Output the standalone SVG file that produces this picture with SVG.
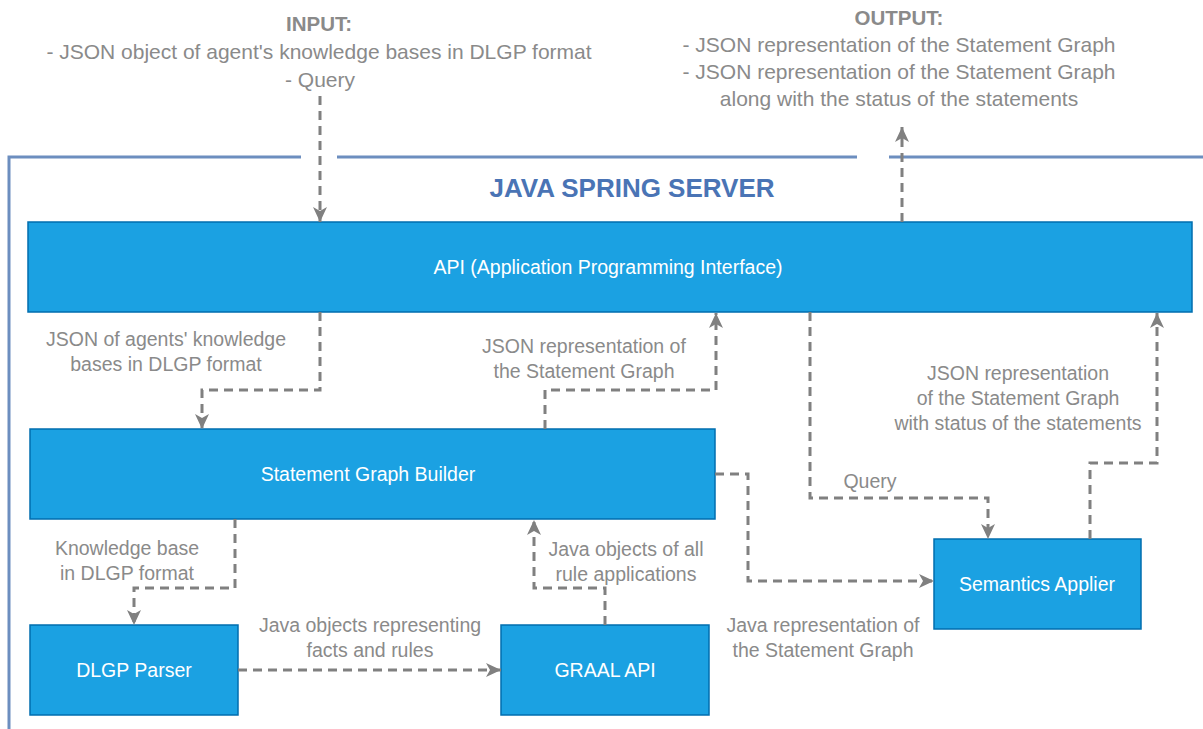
<svg xmlns="http://www.w3.org/2000/svg" width="1203" height="729" viewBox="0 0 1203 729">
<style>
.box{fill:#1ba1e2;stroke:#006eaf;stroke-width:1.5}
.bt{fill:#ffffff;font-family:"Liberation Sans",Arial,sans-serif;font-size:19.5px;text-anchor:middle}
.lb{fill:#8a8a8a;font-family:"Liberation Sans",Arial,sans-serif;font-size:19.5px;text-anchor:middle}
.tp{fill:#8a8a8a;font-family:"Liberation Sans",Arial,sans-serif;font-size:21px;text-anchor:middle}
.hd{fill:#8a8a8a;font-family:"Liberation Sans",Arial,sans-serif;font-size:20.5px;font-weight:bold;text-anchor:middle}
.c{fill:none;stroke:#808080;stroke-width:3;stroke-dasharray:9 6;marker-end:url(#ah)}
.frame{fill:none;stroke:#6c8ebf;stroke-width:3}
</style>
<defs>
<marker id="ah" markerUnits="userSpaceOnUse" markerWidth="18" markerHeight="18" refX="15" refY="9" orient="auto">
<path d="M0,2 L15,9 L0,16 L4,9 Z" fill="#808080"/>
</marker>
</defs>
<g id="container">
<path class="frame" d="M301,157 H9 V729"/>
<path class="frame" d="M337,157 H857"/>
<path class="frame" d="M889,157 H1203"/>
<text x="632" y="197" style="fill:#4a74b5;font-family:'Liberation Sans',Arial,sans-serif;font-size:26px;font-weight:bold;text-anchor:middle">JAVA SPRING SERVER</text>
</g>
<g id="input">
<text class="hd" x="319" y="31">INPUT:</text>
<text class="tp" x="319" y="59">- JSON object of agent's knowledge bases in DLGP format</text>
<text class="tp" x="320" y="87">- Query</text>
</g>
<g id="output">
<text class="hd" x="899" y="25">OUTPUT:</text>
<text class="tp" x="899" y="52">- JSON representation of the Statement Graph</text>
<text class="tp" x="899" y="79">- JSON representation of the Statement Graph</text>
<text class="tp" x="899" y="106">along with the status of the statements</text>
</g>
<g id="api">
<rect class="box" x="28" y="222" width="1164" height="90"/>
<text class="bt" x="608" y="274">API (Application Programming Interface)</text>
</g>
<g id="sgb">
<rect class="box" x="30" y="429" width="685" height="90"/>
<text class="bt" x="368" y="481">Statement Graph Builder</text>
</g>
<g id="dlgp">
<rect class="box" x="30" y="625" width="208" height="90"/>
<text class="bt" x="134" y="677">DLGP Parser</text>
</g>
<g id="graal">
<rect class="box" x="501" y="625" width="208" height="90"/>
<text class="bt" x="605" y="677">GRAAL API</text>
</g>
<g id="sem">
<rect class="box" x="934" y="539" width="207" height="90"/>
<text class="bt" x="1037" y="591">Semantics Applier</text>
</g>
<g id="connectors">
<path class="c" d="M320,96 V222"/>
<path class="c" d="M902,222 V127"/>
<path class="c" d="M320,312 V390 H202 V429"/>
<path class="c" d="M545,429 V390 H716 V313"/>
<path class="c" d="M810,312 V498 H988 V539"/>
<path class="c" d="M1090,539 V463 H1157 V313"/>
<path class="c" d="M715,474 H748 V581 H934"/>
<path class="c" d="M235,519 V588 H134 V625"/>
<path class="c" d="M238,670 H501"/>
<path class="c" d="M605,625 V588 H534 V520"/>
<text class="lb" x="166" y="346">JSON of agents' knowledge</text>
<text class="lb" x="166" y="371">bases in DLGP format</text>
<text class="lb" x="584" y="353">JSON representation of</text>
<text class="lb" x="584" y="378">the Statement Graph</text>
<text class="lb" x="870" y="488">Query</text>
<text class="lb" x="1018" y="380">JSON representation</text>
<text class="lb" x="1018" y="405">of the Statement Graph</text>
<text class="lb" x="1018" y="430">with status of the statements</text>
<text class="lb" x="823" y="632">Java representation of</text>
<text class="lb" x="823" y="657">the Statement Graph</text>
<text class="lb" x="127" y="555">Knowledge base</text>
<text class="lb" x="127" y="580">in DLGP format</text>
<text class="lb" x="370" y="632">Java objects representing</text>
<text class="lb" x="370" y="657">facts and rules</text>
<text class="lb" x="626" y="556">Java objects of all</text>
<text class="lb" x="626" y="581">rule applications</text>
</g>
</svg>
